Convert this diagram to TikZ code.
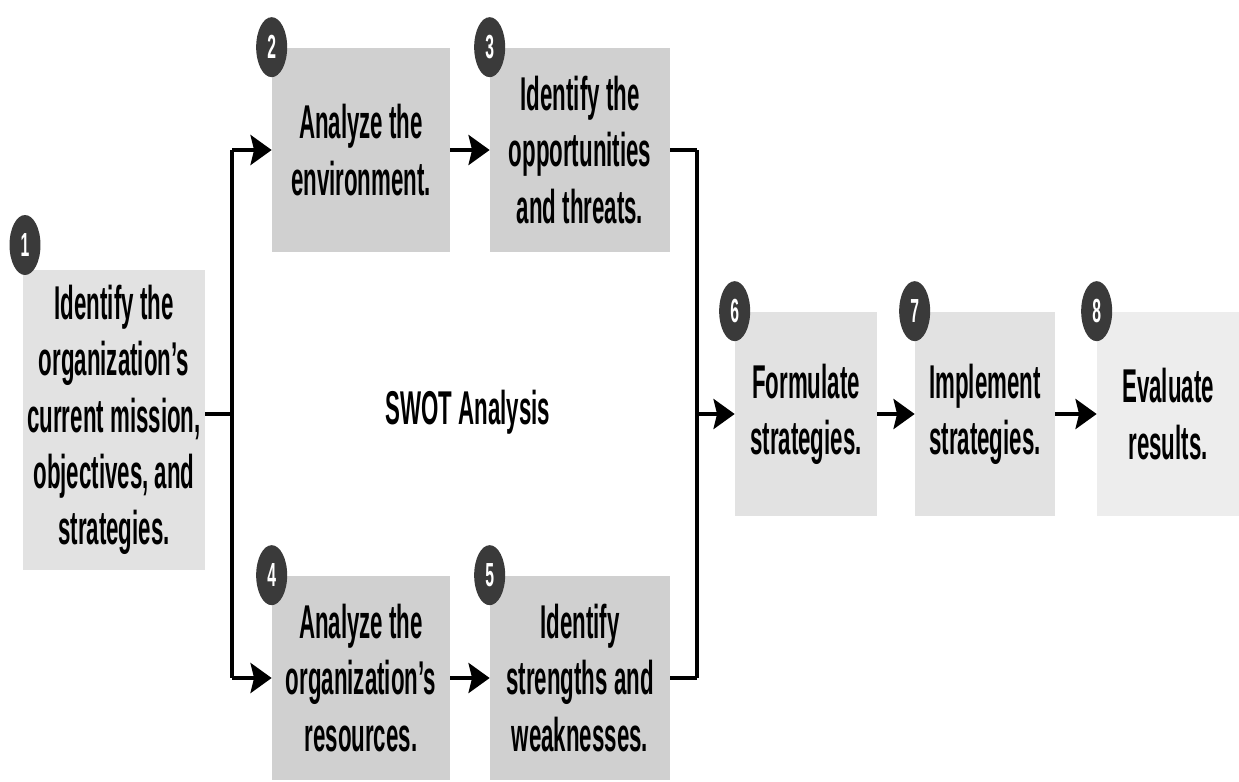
\documentclass[tikz,border=0pt]{standalone}
\usepackage{fontspec}
\setmainfont{Liberation Sans}[FakeStretch=0.47]
\usepackage{xcolor}
\usetikzlibrary{positioning, arrows.meta, shapes.geometric}
\definecolor{shadedark}{HTML}{D0D0D0}
\definecolor{shadelight}{HTML}{E2E2E2}
\definecolor{shadepale}{HTML}{EDEDED}
\definecolor{dotgray}{HTML}{3A3A3A}

\begin{document}
\begin{tikzpicture}[
    x=0.02cm, y=-0.02cm,
    stepbox/.style={rectangle, fill=#1, inner sep=0pt, align=center, minimum height=4.1cm, font=\fontsize{27}{32}\selectfont\bfseries},
    numdot/.style={ellipse, fill=dotgray, inner sep=0pt, minimum width=0.62cm, minimum height=1.2cm, text=white, font=\fontsize{19}{19}\selectfont\bfseries},
    flow/.style={-{Stealth[length=12pt, width=17pt, inset=2pt]}, line width=2.8pt},
    stub/.style={line width=2.8pt},
    rail/.style={line width=1.8pt},
]
\useasboundingbox (0,0) rectangle (1239,781);

% steps
\node[stepbox=shadelight, minimum width=3.64cm, minimum height=6cm] (mission) at (114,420) {Identify the\\organization's\\current mission,\\objectives, and\\strategies.};
\node[stepbox=shadedark, minimum width=3.56cm] (environ) at (361,150) {Analyze the\\environment.};
\node[stepbox=shadedark, minimum width=3.6cm] (opps) at (580,150) {Identify the\\opportunities\\and threats.};
\node[stepbox=shadedark, minimum width=3.56cm] (resources) at (361,678) {Analyze the\\organization's\\resources.};
\node[stepbox=shadedark, minimum width=3.6cm] (strengths) at (580,678) {Identify\\strengths and\\weaknesses.};
\node[stepbox=shadelight, minimum width=2.84cm] (formulate) at (806,414) {Formulate\\strategies.};
\node[stepbox=shadelight, minimum width=2.8cm] (implement) at (985,414) {Implement\\strategies.};
\node[stepbox=shadepale, minimum width=2.84cm] (evaluate) at (1168,414) {Evaluate\\results.};

\node[font=\fontsize{27}{32}\selectfont\bfseries] (swot) at (468,412) {SWOT Analysis};

% numbers
\node[numdot] (n1) at (25,245) {1};
\foreach \s/\n in {environ/2, opps/3, resources/4, strengths/5, formulate/6, implement/7, evaluate/8} {
    \node[numdot] (n\n) at (\s.north west) {\n};
}

% connectors
\coordinate (lt) at (232,150);
\coordinate (lm) at (232,414);
\coordinate (lb) at (232,678);
\coordinate (rt) at (697,150);
\coordinate (rm) at (697,414);
\coordinate (rb) at (697,678);

\draw[stub] (mission.east |- lm) -- (lm);
\draw[rail] (lt) -- (lb);
\draw[stub] (opps.east) -- (rt);
\draw[stub] (strengths.east) -- (rb);
\draw[rail] (rt) -- (rb);

\foreach \a/\b in {lt/environ, lb/resources, environ/opps, resources/strengths, rm/formulate, formulate/implement, implement/evaluate} {
    \draw[flow] (\a) -- (\b);
}

\end{tikzpicture}
\end{document}
